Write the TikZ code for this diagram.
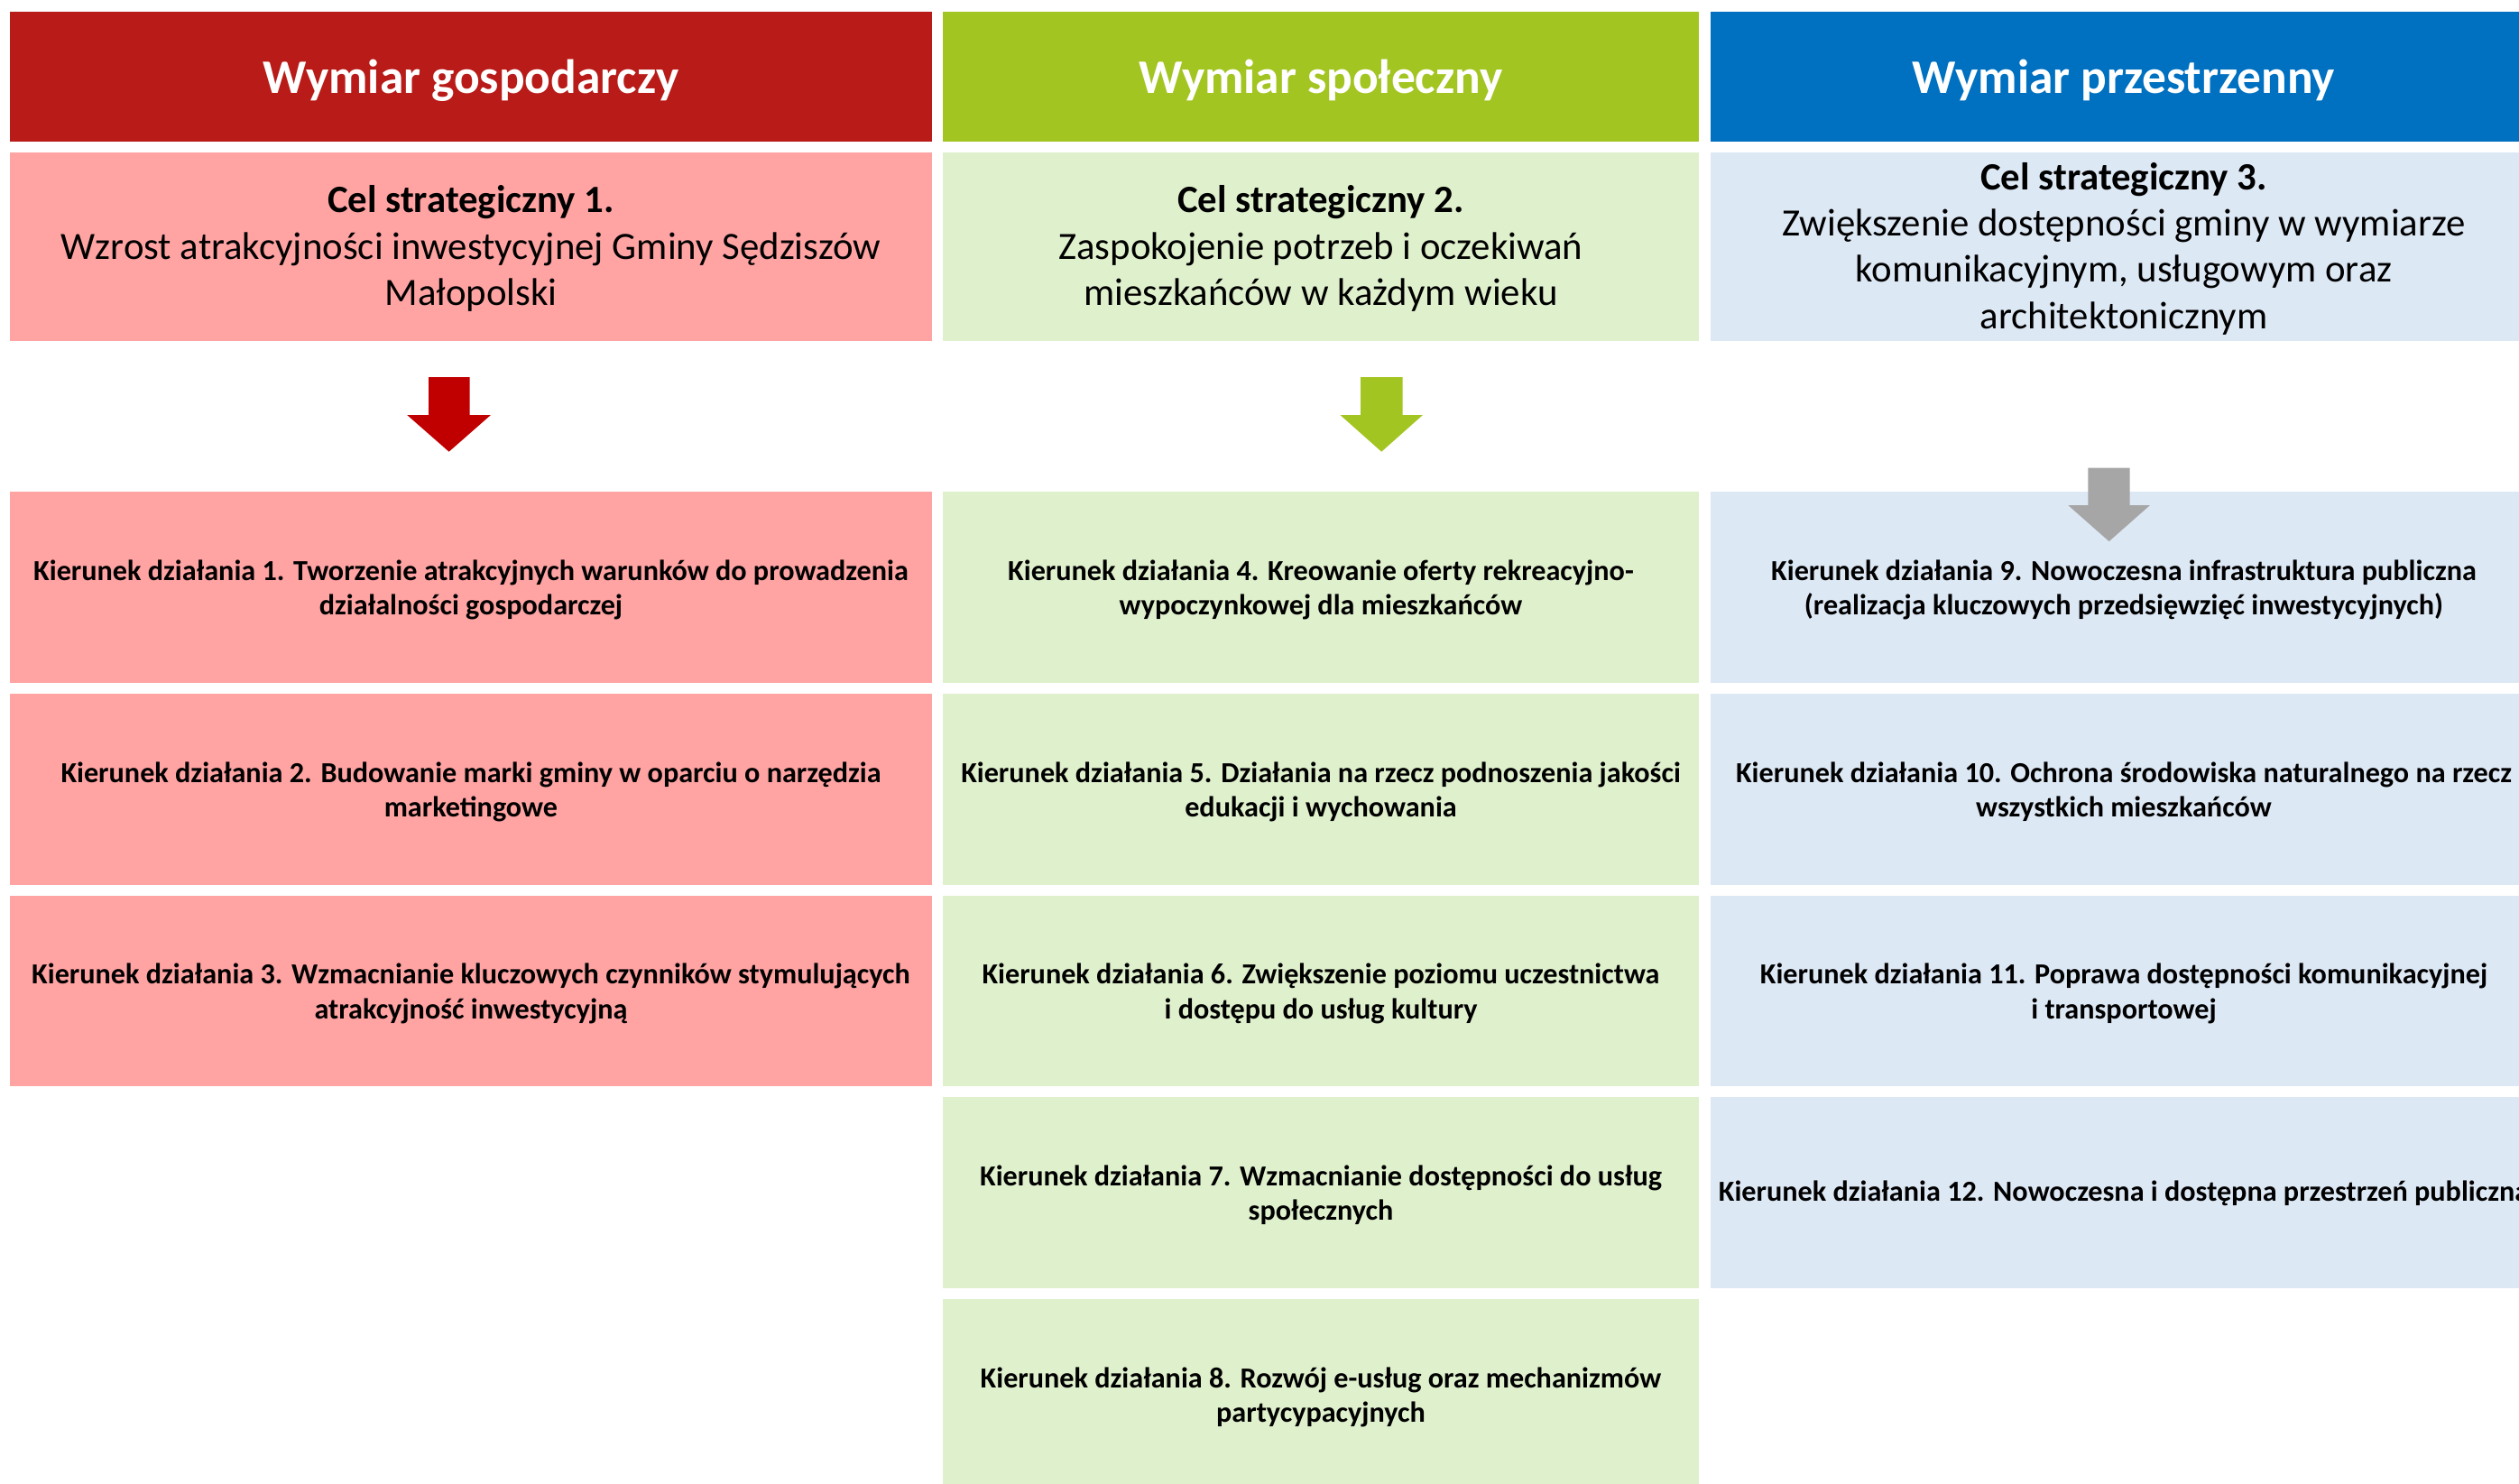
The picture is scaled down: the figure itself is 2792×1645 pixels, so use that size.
\documentclass[tikz,border=0pt]{standalone}
\usepackage{fontspec}
\setmainfont{Carlito}
\definecolor{hdrred}{HTML}{B81B18}
\definecolor{hdrgreen}{HTML}{A3C522}
\definecolor{hdrblue}{HTML}{0070C0}
\definecolor{lightred}{HTML}{FFA3A3}
\definecolor{lightgreen}{HTML}{DFF0CC}
\definecolor{lightblue}{HTML}{DDE8F5}
\definecolor{arrowred}{HTML}{C00000}
\definecolor{arrowgray}{HTML}{A6A6A6}
\begin{document}
\begin{tikzpicture}[x=1pt,y=-1pt,
  panel/.style={rectangle, draw=none, inner sep=0pt, anchor=north west},
  hdrbox/.style={panel, minimum height=144pt},
  celbox/.style={panel, minimum height=208.5pt},
  kbox/.style={panel, minimum height=211.7pt},
  wone/.style={minimum width=1022pt},
  wtwo/.style={minimum width=838pt},
  wthree/.style={minimum width=916pt},
  htext/.style={text=white, font=\bfseries\fontsize{53.4}{60}\selectfont, anchor=base, inner sep=0pt},
  ctext/.style={align=center, font=\fontsize{42.8}{51.4}\selectfont, anchor=base, inner sep=0pt},
  ktext/.style={align=center, font=\bfseries\fontsize{32.2}{38.4}\selectfont, anchor=base, inner sep=0pt}
]
\useasboundingbox (0,0) rectangle (2792,1645);

% ---------- headers ----------
\node[hdrbox, wone, fill=hdrred] (h1) at (11,13) {};
\node[hdrbox, wtwo, fill=hdrgreen] (h2) at (1045,13) {};
\node[hdrbox, wthree, fill=hdrblue] (h3) at (1896,13) {};
\node[htext] (h1t) at (522,103.3) {Wymiar gospodarczy};
\node[htext] (h2t) at (1464,103.3) {Wymiar społeczny};
\node[htext] (h3t) at (2354,103.3) {Wymiar przestrzenny};

% ---------- strategic goals (anchor base = last line) ----------
\node[celbox, wone, fill=lightred] (c1) at (11,169) {};
\node[celbox, wtwo, fill=lightgreen] (c2) at (1045,169) {};
\node[celbox, wthree, fill=lightblue] (c3) at (1896,169) {};
\node[ctext] (c1t) at (522,338.5) {\textbf{Cel strategiczny 1.}\\Wzrost atrakcyjności inwestycyjnej Gminy Sędziszów\\Małopolski};
\node[ctext] (c2t) at (1464,338.5) {\textbf{Cel strategiczny 2.}\\Zaspokojenie potrzeb i oczekiwań\\mieszkańców w każdym wieku};
\node[ctext] (c3t) at (2354,364.3) {\textbf{Cel strategiczny 3.}\\Zwiększenie dostępności gminy w wymiarze\\komunikacyjnym, usługowym oraz\\architektonicznym};

% ---------- action directions: column 1 ----------
\node[kbox, wone, fill=lightred] (k1) at (11,545) {};
\node[kbox, wone, fill=lightred] (k2) at (11,768.75) {};
\node[kbox, wone, fill=lightred] (k3) at (11,992.5) {};
\node[ktext] (k1t) at (522,681.7) {Kierunek działania 1. Tworzenie atrakcyjnych warunków do prowadzenia\\działalności gospodarczej};
\node[ktext] (k2t) at (522,905.45) {Kierunek działania 2. Budowanie marki gminy w oparciu o narzędzia\\marketingowe};
\node[ktext] (k3t) at (522,1129.2) {Kierunek działania 3. Wzmacnianie kluczowych czynników stymulujących\\atrakcyjność inwestycyjną};

% ---------- column 2 ----------
\node[kbox, wtwo, fill=lightgreen] (k4) at (1045,545) {};
\node[kbox, wtwo, fill=lightgreen] (k5) at (1045,768.75) {};
\node[kbox, wtwo, fill=lightgreen] (k6) at (1045,992.5) {};
\node[kbox, wtwo, fill=lightgreen] (k7) at (1045,1216.25) {};
\node[kbox, wtwo, fill=lightgreen] (k8) at (1045,1440) {};
\node[ktext] (k4t) at (1464,681.7) {Kierunek działania 4. Kreowanie oferty rekreacyjno-\\wypoczynkowej dla mieszkańców};
\node[ktext] (k5t) at (1464,905.45) {Kierunek działania 5. Działania na rzecz podnoszenia jakości\\edukacji i wychowania};
\node[ktext] (k6t) at (1464,1129.2) {Kierunek działania 6. Zwiększenie poziomu uczestnictwa\\i dostępu do usług kultury};
\node[ktext] (k7t) at (1464,1352.95) {Kierunek działania 7. Wzmacnianie dostępności do usług\\społecznych};
\node[ktext] (k8t) at (1464,1576.7) {Kierunek działania 8. Rozwój e-usług oraz mechanizmów\\partycypacyjnych};

% ---------- column 3 ----------
\node[kbox, wthree, fill=lightblue] (k9) at (1896,545) {};
\node[kbox, wthree, fill=lightblue] (k10) at (1896,768.75) {};
\node[kbox, wthree, fill=lightblue] (k11) at (1896,992.5) {};
\node[kbox, wthree, fill=lightblue] (k12) at (1896,1216.25) {};
\node[ktext] (k9t) at (2354,681.7) {Kierunek działania 9. Nowoczesna infrastruktura publiczna\\(realizacja kluczowych przedsięwzięć inwestycyjnych)};
\node[ktext] (k10t) at (2354,905.45) {Kierunek działania 10. Ochrona środowiska naturalnego na rzecz\\wszystkich mieszkańców};
\node[ktext] (k11t) at (2354,1129.2) {Kierunek działania 11. Poprawa dostępności komunikacyjnej\\i transportowej};
\node[ktext] (k12t) at (2354,1331) {Kierunek działania 12. Nowoczesna i dostępna przestrzeń publiczna};

% ---------- block arrows ----------
\fill[arrowred] (475,418) -- (520.7,418) -- (520.7,460) -- (544,460) -- (497.6,500.7) -- (451.2,460) -- (475,460) -- cycle;
\fill[hdrgreen] (1508,418) -- (1554.5,418) -- (1554.5,460) -- (1577,460) -- (1531.2,500.7) -- (1485.4,460) -- (1508,460) -- cycle;
\fill[arrowgray] (2314.4,518.7) -- (2360.7,518.7) -- (2360.7,560) -- (2383,560) -- (2337.6,600.1) -- (2292.2,560) -- (2314.4,560) -- cycle;
\end{tikzpicture}
\end{document}
